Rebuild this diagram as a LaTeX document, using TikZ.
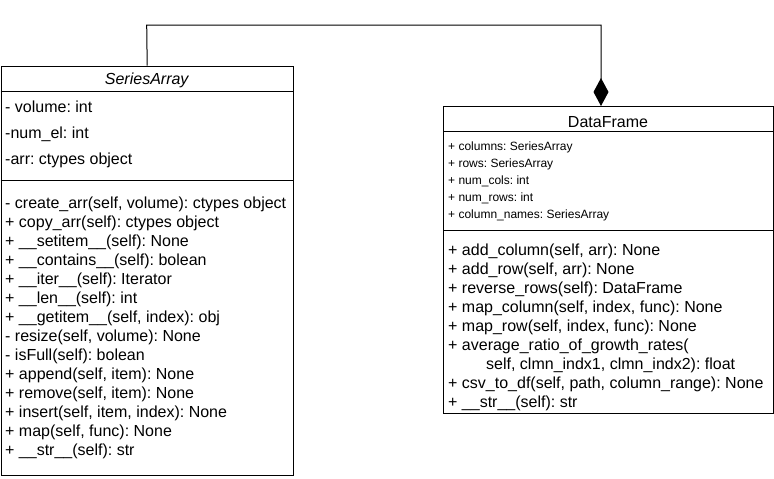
\documentclass[tikz,border=0pt]{standalone}
\usepackage{fontspec}
\setmainfont{Liberation Sans}
\usepackage{xcolor}
\usepackage{tikz}
\usetikzlibrary{positioning,arrows.meta}
\frenchspacing

\begin{document}
\begin{tikzpicture}[
            x=1pt, y=-1pt,
            umlclass/.style={rectangle, draw, line width=1pt, inner sep=0pt, anchor=north west},
            classname/.style={font=\fontsize{16}{19}\selectfont, anchor=base, inner sep=0pt},
            member/.style={font=\fontsize{16}{19}\selectfont, anchor=base west, inner sep=0pt},
            smallmember/.style={font=\fontsize{12}{14}\selectfont, anchor=base west, inner sep=0pt},
            composition/.style={line width=1pt, -{Diamond[length=28pt, width=15pt]}}
        ]
            \useasboundingbox (0,0) rectangle (774,479);

            % Classes
            \node[umlclass, minimum width=292pt, minimum height=409pt] (sa) at (0.7,65.7) {};
            \node[umlclass, minimum width=330pt, minimum height=307pt] (df) at (443,106) {};

            % Separators
            \draw[line width=1pt] (sa.west |- 0,91) -- (sa.east |- 0,91);
            \draw[line width=1pt] (sa.west |- 0,180.7) -- (sa.east |- 0,180.7);
            \draw[line width=1pt] (df.west |- 0,131) -- (df.east |- 0,131);
            \draw[line width=1pt] (df.west |- 0,230) -- (df.east |- 0,230);

            % SeriesArray
            \node[classname, font=\fontsize{16}{19}\selectfont\itshape] (sa-name) at (146.7,84) {SeriesArray};
            \node[member] (sa-a1) at (5,112.5) {- volume: int};
            \node[member] (sa-a2) at (5,138.5) {-num\_el: int};
            \node[member] (sa-a3) at (5,164.5) {-arr: ctypes object};
            \node[member] (sa-m1) at (5,208) {- create\_arr(self, volume): ctypes object};
            \node[member] (sa-m2) at (5,227) {+ copy\_arr(self): ctypes object};
            \node[member] (sa-m3) at (5,246) {+ \_\_setitem\_\_(self): None};
            \node[member] (sa-m4) at (5,265) {+ \_\_contains\_\_(self): bolean};
            \node[member] (sa-m5) at (5,284) {+ \_\_iter\_\_(self): Iterator};
            \node[member] (sa-m6) at (5,303) {+ \_\_len\_\_(self): int};
            \node[member] (sa-m7) at (5,322) {+ \_\_getitem\_\_(self, index): obj};
            \node[member] (sa-m8) at (5,341) {- resize(self, volume): None};
            \node[member] (sa-m9) at (5,360) {- isFull(self): bolean};
            \node[member] (sa-m10) at (5,379) {+ append(self, item): None};
            \node[member] (sa-m11) at (5,398) {+ remove(self, item): None};
            \node[member] (sa-m12) at (5,417) {+ insert(self, item, index): None};
            \node[member] (sa-m13) at (5,436) {+ map(self, func): None};
            \node[member] (sa-m14) at (5,455) {+ \_\_str\_\_(self): str};

            % DataFrame
            \node[classname] (df-name) at (608,127) {DataFrame};
            \node[smallmember] (df-a1) at (448,150) {+ columns: SeriesArray};
            \node[smallmember] (df-a2) at (448,167) {+ rows: SeriesArray};
            \node[smallmember] (df-a3) at (448,184) {+ num\_cols: int};
            \node[smallmember] (df-a4) at (448,201) {+ num\_rows: int};
            \node[smallmember] (df-a5) at (448,218) {+ column\_names: SeriesArray};
            \node[member] (df-m1) at (448,255) {+ add\_column(self, arr): None};
            \node[member] (df-m2) at (448,274) {+ add\_row(self, arr): None};
            \node[member] (df-m3) at (448,293) {+ reverse\_rows(self): DataFrame};
            \node[member] (df-m4) at (448,312) {+ map\_column(self, index, func): None};
            \node[member] (df-m5) at (448,331) {+ map\_row(self, index, func): None};
            \node[member] (df-m6) at (448,350) {+ average\_ratio\_of\_growth\_rates(};
            \node[member] (df-m6b) at (486,369) {self, clmn\_indx1, clmn\_indx2): float};
            \node[member] (df-m7) at (448,388) {+ csv\_to\_df(self, path, column\_range): None};
            \node[member] (df-m8) at (448,407) {+ \_\_str\_\_(self): str};

            % Edges
            \coordinate (lift) at (146.7,25);
            \coordinate (hook) at (601,106);
            \draw[composition] (sa.north) -- (lift) -| (hook); % SeriesArray part of DataFrame
        \end{tikzpicture}
\end{document}
